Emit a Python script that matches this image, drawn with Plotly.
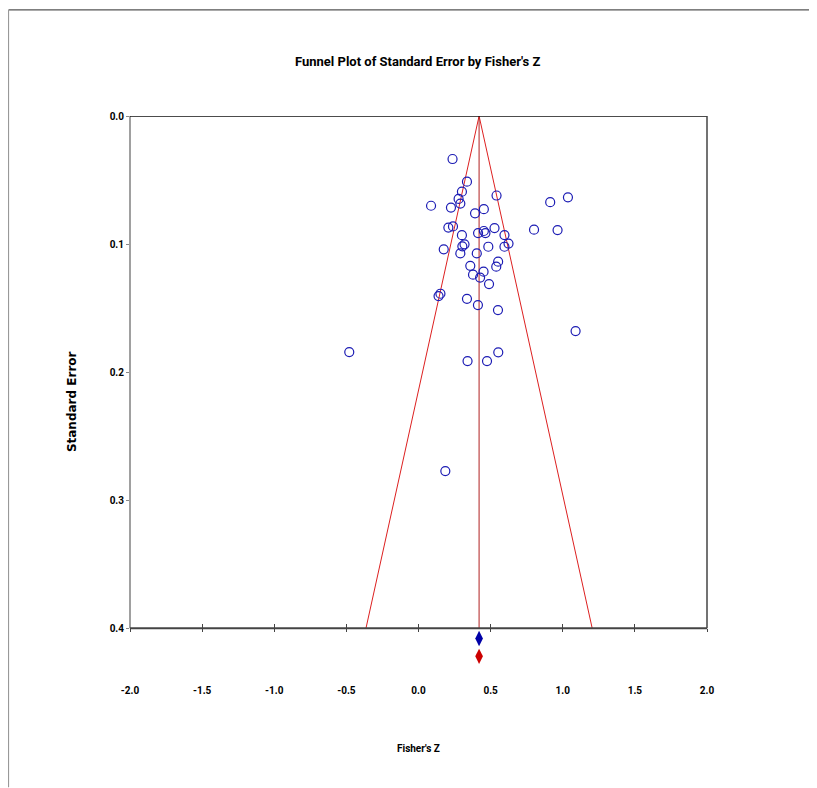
import plotly.graph_objects as go

# Study effect sizes (Fisher's Z) and standard errors
fisher_z = [0.236, 0.336, 0.301, 0.278, 0.290, 0.087, 0.225, 0.541, 0.453, 0.392,
            0.913, 1.036, 0.207, 0.239, 0.301, 0.413, 0.453, 0.464, 0.527, 0.801,
            0.964, 0.596, 0.624, 0.596, 0.319, 0.304, 0.290, 0.175, 0.404, 0.484,
            0.552, 0.539, 0.359, 0.378, 0.451, 0.427, 0.489, 0.152, 0.139, 0.336,
            0.412, 0.551, 1.089, -0.480, 0.340, 0.475, 0.553, 0.186]
std_err = [0.0336, 0.0513, 0.0591, 0.0648, 0.0684, 0.0701, 0.0715, 0.0621, 0.0728, 0.0760,
           0.0673, 0.0635, 0.0871, 0.0862, 0.0931, 0.0914, 0.0898, 0.0914, 0.0875, 0.0888,
           0.0891, 0.0930, 0.0996, 0.1021, 0.1002, 0.1018, 0.1073, 0.1041, 0.1073, 0.1021,
           0.1138, 0.1177, 0.1170, 0.1239, 0.1216, 0.1262, 0.1313, 0.1388, 0.1406, 0.1428,
           0.1477, 0.1516, 0.1680, 0.1844, 0.1914, 0.1914, 0.1846, 0.2773]

summary_z = 0.42
summary_x = [0.42, 0.42]
summary_y = [0.408, 0.422]
summary_colors = ["#0000a8", "#cc0000"]

x_ticks = [-2.0, -1.5, -1.0, -0.5, 0.0, 0.5, 1.0, 1.5, 2.0]
y_ticks = [0.0, 0.1, 0.2, 0.3, 0.4]
se_max = 0.4
y_view_max = 0.435  # extra room below the axis for the summary diamonds

NARROW = "Roboto, Liberation Sans, sans-serif"

fig = go.Figure()

# funnel lines
fig.add_trace(go.Scatter(
    x=[summary_z - 1.96 * se_max, summary_z, summary_z + 1.96 * se_max],
    y=[se_max, 0.0, se_max],
    mode="lines", line=dict(color="#dd2020", width=1), hoverinfo="skip", showlegend=False))
# mean line
fig.add_trace(go.Scatter(
    x=[summary_z, summary_z], y=[0.0, se_max],
    mode="lines", line=dict(color="#b02020", width=1), hoverinfo="skip", showlegend=False))
# studies
fig.add_trace(go.Scatter(
    x=fisher_z, y=std_err, mode="markers",
    marker=dict(symbol="circle-open", size=9, color="#1c1cb4", line=dict(width=1.2)),
    showlegend=False))
# summary diamonds
fig.add_trace(go.Scatter(
    x=summary_x, y=summary_y, mode="markers", cliponaxis=False,
    marker=dict(symbol="diamond-tall", size=11, color=summary_colors, line=dict(width=0)),
    showlegend=False))

# page geometry (page pixels; the figure sits at an 8px offset in the page)
OFF = 8
W, H = 817 - OFF, 788 - OFF
L, R, T = 130, 707, 116
B_AXIS = 628
B = T + (B_AXIS - T) * y_view_max / se_max


def px(xp):
    return (xp - L) / (R - L)


def py(yp):
    return (B - yp) / (B - T)


axis_pos = (B - B_AXIS) / (B - T)

shapes = [
    # plot frame
    dict(type="line", xref="paper", yref="y", x0=0, x1=0, y0=0, y1=se_max,
         line=dict(color="#a0a0a0", width=2)),
    dict(type="line", xref="paper", yref="y", x0=0, x1=1, y0=0, y1=0,
         line=dict(color="#111111", width=1.5)),
    dict(type="line", xref="paper", yref="y", x0=1, x1=1, y0=0, y1=se_max,
         line=dict(color="#444444", width=1.5)),
    dict(type="line", xref="paper", yref="y", x0=0, x1=1, y0=se_max, y1=se_max,
         line=dict(color="#444444", width=2)),
    # page border
    dict(type="line", xref="paper", yref="paper", x0=px(8.5), x1=px(817), y0=py(10), y1=py(10),
         line=dict(color="#555555", width=1.2)),
    dict(type="line", xref="paper", yref="paper", x0=px(8.5), x1=px(8.5), y0=py(10), y1=py(787),
         line=dict(color="#999999", width=1.2)),
]

annotations = [
    dict(text="<b>Funnel Plot of Standard Error by Fisher's Z</b>", xref="paper", yref="paper",
         x=px(418), y=py(62), showarrow=False, xanchor="center", yanchor="middle",
         font=dict(family=NARROW, size=13, color="#000000")),
    dict(text="<b>Standard Error</b>", xref="paper", yref="paper",
         x=px(72), y=py(402), showarrow=False, textangle=-90, xanchor="center", yanchor="middle",
         font=dict(family="DejaVu Sans, Liberation Sans, sans-serif", size=12, color="#000000")),
    dict(text="<b>Fisher's Z</b>", xref="paper", yref="paper",
         x=px(418), y=py(748), showarrow=False, xanchor="center", yanchor="middle",
         font=dict(family=NARROW, size=10, color="#000000")),
]

fig.update_layout(
    width=W, height=H,
    margin=dict(l=L - OFF, r=W - (R - OFF), t=T - OFF, b=H - (B - OFF), pad=0),
    paper_bgcolor="white", plot_bgcolor="white",
    shapes=shapes, annotations=annotations,
    showlegend=False,
    xaxis=dict(range=[-2, 2], tickvals=x_ticks, ticktext=[f"<b>{v:.1f}</b>" for v in x_ticks],
               anchor="free", position=axis_pos,
               showgrid=False, zeroline=False, showline=False,
               ticks="outside", ticklen=3, tickcolor="#444444", tickwidth=1,
               ticklabelstandoff=50,
               tickfont=dict(family=NARROW, size=10, color="#000000")),
    xaxis2=dict(range=[-2, 2], tickvals=x_ticks, overlaying="x", side="bottom",
                anchor="free", position=axis_pos,
                showticklabels=False, showgrid=False, zeroline=False, showline=False,
                ticks="inside", ticklen=4, tickcolor="#444444", tickwidth=1),
    yaxis=dict(range=[y_view_max, 0.0], tickvals=y_ticks,
               ticktext=[f"<b>{v:.1f}</b>" for v in y_ticks],
               showgrid=False, zeroline=False, showline=False,
               ticks="outside", ticklen=3, tickcolor="#888888", tickwidth=1,
               tickfont=dict(family=NARROW, size=10, color="#000000")),
)
# invisible trace to activate xaxis2
fig.add_trace(go.Scatter(x=[None], y=[None], xaxis="x2", yaxis="y", showlegend=False))

fig.write_html("out.html")
